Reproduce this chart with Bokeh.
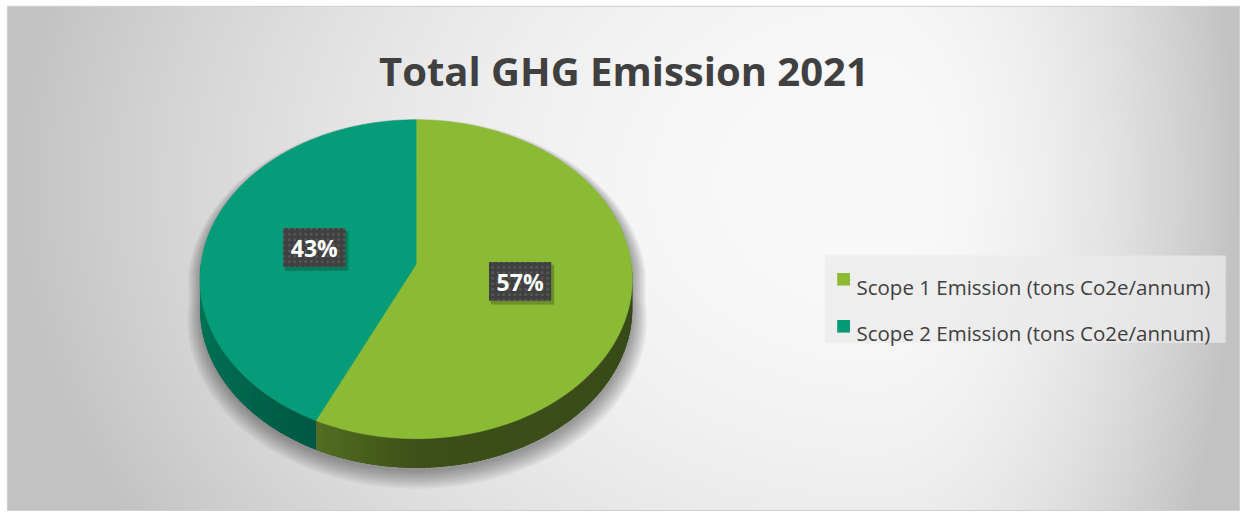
import numpy as np
from bokeh.plotting import figure
from bokeh.models import Range1d, ColumnDataSource
from bokeh.core.properties import value
from bokeh.embed import file_html
from bokeh.resources import INLINE

# ---------------- data ----------------
title_text = "Total GHG Emission 2021"
categories = ["Scope 1 Emission (tons Co2e/annum)", "Scope 2 Emission (tons Co2e/annum)"]
shares = [57, 43]
top_colors = ["#8bba35", "#079c79"]
legend_colors = ["#8cbb33", "#069a77"]
side_base = ["#3b4c18", "#00654c"]
# side colour stops (theta in degrees clockwise from the far point)
side_stops = [
    ([90, 180, 205.2], ["#37481a", "#3d5018", "#526e21"]),
    ([205.2, 270], ["#005842", "#007a5c"]),
]

# ---------------- geometry (reference-pixel units) ----------------
W, H = 1240, 511
RW, RH = 1256.0, 527.0
CX, CY = 421.0, 272.0
A, B, P = 218.0, 163.0, 0.094
DEPTH = 30.0
AREA = (7.0, 1255.0, 6.0, 526.0)   # chart area left, right, top, bottom


def Y(y):
    return RH - np.asarray(y, dtype=float)


def proj(theta_deg, r=1.0, drop=0.0):
    t = np.radians(np.asarray(theta_deg, dtype=float))
    u = r * np.sin(t)
    v = r * np.cos(t)
    w = 1.0 + P * v
    return CX + A * u / w, CY - B * v / w + drop


def hex2rgb(h):
    h = h.lstrip("#")
    return np.array([int(h[i:i + 2], 16) for i in (0, 2, 4)], dtype=float)


def ramp(theta, stops):
    ts, cs = stops
    rgb = np.array([hex2rgb(c) for c in cs])
    out = [np.interp(theta, ts, rgb[:, k]) for k in range(3)]
    return "#%02x%02x%02x" % tuple(int(round(c)) for c in out)


p = figure(width=W, height=H, x_range=Range1d(0, RW), y_range=Range1d(0, RH),
           output_backend="svg", toolbar_location=None, min_border=0,
           x_axis_type=None, y_axis_type=None)
p.grid.visible = False
p.outline_line_color = None
p.background_fill_color = "white"
p.border_fill_color = "white"

# ---------------- background gradient ----------------
L, R, T, Bm = AREA
hw, hh = 624, 260
xs_px = L + (np.arange(hw) + 0.5) * (R - L) / hw
ys_data = (RH - Bm) + (np.arange(hh) + 0.5) * (Bm - T) / hh
ys_px = RH - ys_data
XX, YY = np.meshgrid(xs_px, ys_px)
dx = XX - 890.0
ax = np.where(dx < 0, 883.0, 365.0)
dy = YY - 190.0
t2 = np.clip((dx / ax) ** 2 + (dy / 700.0) ** 2, 0, 1)
g = (250 - (250 - 194) * t2).astype(np.uint8)
img = np.zeros((hh, hw), dtype=np.uint32)
view = img.view(dtype=np.uint8).reshape((hh, hw, 4))
view[:, :, 0] = g
view[:, :, 1] = g
view[:, :, 2] = g
view[:, :, 3] = 255
p.image_rgba(image=[img], x=L, y=RH - Bm, dw=R - L, dh=Bm - T)
p.quad(left=[L], right=[R], top=Y([T]), bottom=Y([Bm]), fill_color=None,
       line_color="#cfcfcf", line_width=1)

# ---------------- pie ----------------
total = float(sum(shares))
bounds = np.concatenate([[0.0], np.cumsum(shares) / total * 360.0])

# shadow silhouette
far = np.linspace(-90, 90, 120)
near = np.linspace(90, 270, 120)
fx, fy = proj(far)
nx, ny = proj(near, drop=DEPTH)
sil_x = np.concatenate([fx, nx])
sil_y = np.concatenate([fy, ny])
scx, scy = CX, CY + DEPTH
sh_xs, sh_ys = [], []
for k in range(10):
    s = 1.0 + 0.007 * k
    sh_xs.append(scx + (sil_x - scx) * s + 1.0)
    sh_ys.append(Y(scy + (sil_y - scy) * s + 4 + 0.7 * k))
p.patches(sh_xs[::-1], sh_ys[::-1], fill_color="black", fill_alpha=0.04, line_color=None)

# side faces: base patch + shaded strips
base_xs, base_ys, base_c = [], [], []
side_xs, side_ys, side_cols = [], [], []
for i in range(len(shares)):
    a0, a1 = bounds[i], bounds[i + 1]
    lo, hi = max(a0, 90.0), min(a1, 270.0)
    if hi <= lo:
        continue
    tt = np.linspace(lo, hi, 200)
    tx, ty = proj(tt)
    bx, by = proj(tt[::-1], drop=DEPTH)
    base_xs.append(np.concatenate([tx, bx]))
    base_ys.append(Y(np.concatenate([ty, by])))
    base_c.append(side_base[i])
    n = int(np.ceil((hi - lo) / 1.5))
    edges = np.linspace(lo, hi, n + 1)
    for j in range(n):
        ta, tb = max(lo, edges[j] - 0.4), min(hi, edges[j + 1] + 0.4)
        tt = np.linspace(ta, tb, 3)
        tx, ty = proj(tt)
        bx, by = proj(tt[::-1], drop=DEPTH)
        side_xs.append(np.concatenate([tx, bx]))
        side_ys.append(Y(np.concatenate([ty, by])))
        side_cols.append(ramp(0.5 * (edges[j] + edges[j + 1]), side_stops[i]))
p.patches(xs="xs", ys="ys", fill_color="c", line_color=None,
          source=ColumnDataSource(dict(xs=base_xs, ys=base_ys, c=base_c)))
p.patches(xs="xs", ys="ys", fill_color="c", line_color=None,
          source=ColumnDataSource(dict(xs=side_xs, ys=side_ys, c=side_cols)))

# top faces
top_xs, top_ys = [], []
for i in range(len(shares)):
    tt = np.linspace(bounds[i], bounds[i + 1], 240)
    tx, ty = proj(tt)
    top_xs.append(np.concatenate([[CX], tx]))
    top_ys.append(Y(np.concatenate([[CY], ty])))
p.patches(xs="xs", ys="ys", fill_color="c", line_color="c", line_width=0.5,
          source=ColumnDataSource(dict(xs=top_xs, ys=top_ys, c=top_colors)))

# data labels
mids = 0.5 * (bounds[:-1] + bounds[1:])
lx, ly = proj(mids, r=0.49)
pct = ["%d%%" % round(s / total * 100) for s in shares]
p.rect(x=lx + 2.5, y=Y(ly + 3.5), width=64, height=41, fill_color="black",
       fill_alpha=0.22, line_color=None)
p.rect(x=lx, y=Y(ly), width=63, height=40, fill_color="#404040", line_color=None,
       hatch_pattern="dot", hatch_color="#5a5a5a", hatch_scale=5.5, hatch_weight=1.0)
p.text(x=lx, y=Y(ly + 1), text=pct, text_color="white", text_font=value("Open Sans"),
       text_font_style="bold", text_font_size="23px", text_align="center",
       text_baseline="middle")

# ---------------- title ----------------
p.text(x=[631.5], y=Y([72]), text=[title_text], text_color="#404040",
       text_font=value("Open Sans"), text_font_style="bold", text_font_size="40px",
       text_align="center", text_baseline="alphabetic")

# ---------------- legend ----------------
p.quad(left=[835], right=[1241], top=Y([263]), bottom=Y([353]), fill_color="#ebebeb",
       fill_alpha=0.75, line_color=None)
leg_y = np.array([287.5, 336.0])
p.rect(x=[854, 854], y=Y(leg_y), width=13, height=13, fill_color=legend_colors, line_color=None)
p.text(x=[867, 867], y=Y([295, 343]), text=categories, text_color="#404040",
       text_font=value("Open Sans"), text_font_size="20.5px", text_align="left",
       text_baseline="alphabetic")

open("out.html", "w").write(file_html(p, INLINE))
